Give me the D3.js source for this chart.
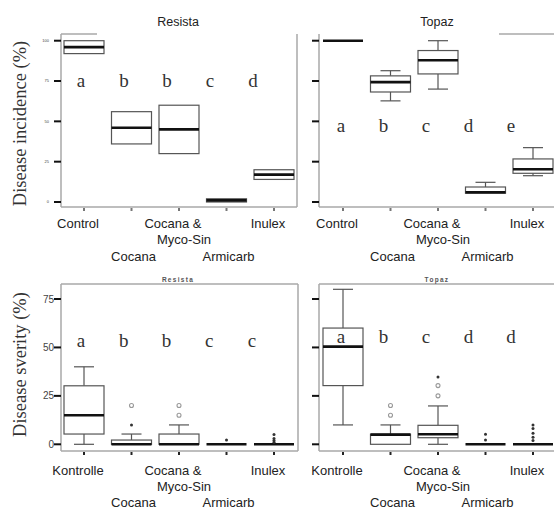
<!DOCTYPE html>
<html lang="en">
<head>
<meta charset="UTF-8">
<title>Disease incidence and severity</title>
<script src="https://cdn.jsdelivr.net/npm/d3@7/dist/d3.min.js"></script>
<style>
  body { margin: 0; background: #fff; }
  svg { display: block; }
</style>
</head>
<body>
<div id="chart"></div>
<script>
// ---- data ----
const incidenceGroups = ["Control", "Cocana", "Cocana &\nMyco-Sin", "Armicarb", "Inulex"];
const severityGroups = ["Kontrolle", "Cocana", "Cocana &\nMyco-Sin", "Armicarb", "Inulex"];

const incidenceTicks = [0, 25, 50, 75, 100];
const severityTicks = [0, 25, 50, 75];

// [min, q1, median, q3, max]
const incidenceResista = [[92, 92, 96, 100, 100], [36, 36, 46, 56, 56], [30, 30, 45, 60, 60], [0, 0, 1, 2, 2], [14, 14, 17, 20, 20]];
const incidenceTopaz = [[100, 100, 100, 100, 100], [62.7, 68.2, 74.3, 78.2, 81.4], [70, 79.4, 87.9, 93.9, 100], [5.4, 5.4, 6, 9.3, 12.2], [16.3, 17.8, 20.3, 26.7, 33.7]];
const severityResista = [[0, 5.3, 15, 30.2, 40], [0, 0, 0, 2.2, 5.3], [0, 0, 0, 5.3, 10], [0, 0, 0, 0, 0], [0, 0, 0, 0, 0]];
const severityTopaz = [[10, 30.3, 50.4, 60, 80], [0, 0, 5, 5.2, 10], [0, 3.4, 5.2, 9.8, 19.8], [0, 0, 0, 0, 0], [0, 0, 0, 0, 0]];

// outliers: [group index, value]
const openResista = [[1, 20], [2, 15], [2, 20]];
const solidResista = [[1, 10], [3, 2.2], [4, 1], [4, 2], [4, 3], [4, 5]];
const openTopaz = [[1, 15], [1, 20], [2, 25], [2, 30.3]];
const solidTopaz = [[2, 34.7], [3, 2.2], [3, 5.2], [4, 2], [4, 3.6], [4, 5.7], [4, 8.2], [4, 10]];

const lettersIncResista = ["a", "b", "b", "c", "d"];
const lettersIncTopaz = ["a", "b", "c", "d", "e"];
const lettersSevResista = ["a", "b", "b", "c", "c"];
const lettersSevTopaz = ["a", "b", "c", "d", "d"];

// ---- layout ----
const width = 554, height = 510;
const svg = d3.select("#chart").append("svg")
  .attr("width", width).attr("height", height);

const panels = [
  { title: "Resista", small: false, groups: incidenceGroups, boxes: incidenceResista, open: [], solid: [],
    letters: lettersIncResista, letterAt: 75, ticks: incidenceTicks, yDomain: [0, 100],
    x0: 61, x1: 297, y0: 34, y1: 207, yr: [202, 40.7], xr: [84, 274], lr: [81, 253],
    sides: [["l"], ["b"], ["r"], ["t", 61, 97]], tickLabels: true, labelRows: [223, 239, 256] },
  { title: "Topaz", small: false, groups: incidenceGroups, boxes: incidenceTopaz, open: [], solid: [],
    letters: lettersIncTopaz, letterAt: 47, ticks: incidenceTicks, yDomain: [0, 100],
    x0: 319, x1: 554, y0: 34, y1: 207, yr: [202, 40.7], xr: [343, 533], lr: [341, 511],
    sides: [["l"], ["b"], ["t", 499, 554]], tickLabels: false, labelRows: [223, 239, 256] },
  { title: "Resista", small: true, groups: severityGroups, boxes: severityResista, open: openResista, solid: solidResista,
    letters: lettersSevResista, letterAt: 53, ticks: severityTicks, yDomain: [0, 75],
    x0: 61, x1: 298, y0: 284, y1: 451, yr: [444.3, 299], xr: [84, 274], lr: [81, 252],
    sides: [["l"], ["b"], ["r"], ["t"]], tickLabels: true, labelRows: [470, 486, 502] },
  { title: "Topaz", small: true, groups: severityGroups, boxes: severityTopaz, open: openTopaz, solid: solidTopaz,
    letters: lettersSevTopaz, letterAt: 55, ticks: severityTicks, yDomain: [0, 75],
    x0: 319, x1: 554, y0: 284, y1: 451, yr: [444.3, 299], xr: [343, 533], lr: [341, 511],
    sides: [["l"], ["b"], ["t"]], tickLabels: false, labelRows: [470, 486, 502] }
];

const axisColor = "#a8a8a8";
const boxColor = "#555";
const sans = "'Liberation Sans', Arial, sans-serif";
const serif = "'Liberation Serif', 'Times New Roman', serif";

panels.forEach(p => {
  const g = svg.append("g");
  const x = d3.scalePoint().domain(d3.range(p.groups.length)).range(p.xr);
  const xl = d3.scalePoint().domain(d3.range(p.letters.length)).range(p.lr);
  const y = d3.scaleLinear().domain(p.yDomain).range(p.yr);
  const boxW = 40;

  // frame
  p.sides.forEach(s => {
    const ln = g.append("line").attr("stroke", axisColor).attr("stroke-width", 1.5);
    if (s[0] === "l") ln.attr("x1", p.x0).attr("x2", p.x0).attr("y1", p.y0).attr("y2", p.y1);
    if (s[0] === "r") ln.attr("x1", p.x1).attr("x2", p.x1).attr("y1", p.y0).attr("y2", p.y1);
    if (s[0] === "b") ln.attr("x1", p.x0).attr("x2", p.x1).attr("y1", p.y1).attr("y2", p.y1);
    if (s[0] === "t") ln.attr("x1", s[1] ?? p.x0).attr("x2", s[2] ?? p.x1).attr("y1", p.y0).attr("y2", p.y0);
  });

  // y ticks
  p.ticks.forEach(t => {
    g.append("line")
      .attr("x1", p.x0 - 7).attr("x2", p.x0)
      .attr("y1", y(t)).attr("y2", y(t))
      .attr("stroke", "#111").attr("stroke-width", 2);
    if (p.tickLabels) {
      g.append("text")
        .attr("x", p.x0 - (p.small ? 7 : 12)).attr("y", y(t))
        .attr("dy", "0.35em")
        .attr("text-anchor", "end")
        .style("font-family", sans)
        .style("font-size", p.small ? "10px" : "4px")
        .style("fill", "#444")
        .text(t);
    }
  });

  // x ticks
  p.groups.forEach((d, i) => {
    g.append("line")
      .attr("x1", x(i)).attr("x2", x(i))
      .attr("y1", p.y1 + 1).attr("y2", p.y1 + 4)
      .attr("stroke", p.small ? "#222" : "#777").attr("stroke-width", 2);
  });

  // title
  g.append("text")
    .attr("x", (p.xr[0] + p.xr[1]) / 2 - 1)
    .attr("y", p.small ? p.y0 - 2 : 25.5)
    .attr("text-anchor", "middle")
    .style("font-family", sans)
    .style("font-size", p.small ? "6.5px" : "12.5px")
    .style("font-weight", p.small ? "bold" : "normal")
    .style("letter-spacing", p.small ? "1.3px" : "0")
    .style("fill", p.small ? "#555" : "#222")
    .text(p.title);

  // boxes
  p.boxes.forEach((b, i) => {
    const cx = x(i);
    const [mn, q1, md, q3, mx] = b;
    if (mx > q3) {
      g.append("line").attr("x1", cx).attr("x2", cx).attr("y1", y(q3)).attr("y2", y(mx))
        .attr("stroke", boxColor).attr("stroke-width", 1.2);
      g.append("line").attr("x1", cx - 10).attr("x2", cx + 10).attr("y1", y(mx)).attr("y2", y(mx))
        .attr("stroke", boxColor).attr("stroke-width", 1.2);
    }
    if (mn < q1) {
      g.append("line").attr("x1", cx).attr("x2", cx).attr("y1", y(q1)).attr("y2", y(mn))
        .attr("stroke", boxColor).attr("stroke-width", 1.2);
      g.append("line").attr("x1", cx - 10).attr("x2", cx + 10).attr("y1", y(mn)).attr("y2", y(mn))
        .attr("stroke", boxColor).attr("stroke-width", 1.2);
    }
    if (q3 > q1) {
      g.append("rect")
        .attr("x", cx - boxW / 2).attr("width", boxW)
        .attr("y", y(q3)).attr("height", y(q1) - y(q3))
        .attr("fill", "#fff").attr("stroke", boxColor).attr("stroke-width", 1.2);
    }
    g.append("line")
      .attr("x1", cx - boxW / 2).attr("x2", cx + boxW / 2)
      .attr("y1", y(md)).attr("y2", y(md))
      .attr("stroke", "#111").attr("stroke-width", 2.6);
  });

  // outliers
  p.open.forEach(([i, v]) => {
    g.append("circle").attr("cx", x(i)).attr("cy", y(v)).attr("r", 2)
      .attr("fill", "none").attr("stroke", "#999").attr("stroke-width", 1.1);
  });
  p.solid.forEach(([i, v]) => {
    g.append("circle").attr("cx", x(i)).attr("cy", y(v)).attr("r", 1.5)
      .attr("fill", "#333");
  });

  // significance letters
  p.letters.forEach((l, i) => {
    g.append("text")
      .attr("x", xl(i)).attr("y", y(p.letterAt))
      .attr("dy", "0.3em")
      .attr("text-anchor", "middle")
      .style("font-family", serif)
      .style("font-size", "19px")
      .style("fill", "#333")
      .text(l);
  });

  // group labels (staggered like the original)
  p.groups.forEach((d, i) => {
    const parts = d.split("\n");
    const row = i % 2 === 1 ? 2 : 0;
    const dx = row === 2 ? 2 : -6;
    parts.forEach((t, k) => {
      g.append("text")
        .attr("x", x(i) + (k === 1 ? 5 : dx))
        .attr("y", p.labelRows[row + k])
        .attr("dy", "0.35em")
        .attr("text-anchor", "middle")
        .style("font-family", sans)
        .style("font-size", "13px")
        .style("fill", "#222")
        .text(t);
    });
  });
});

// y axis titles
[["Disease incidence (%)", 123.5], ["Disease sverity (%)", 364.5]].forEach(([t, cy]) => {
  svg.append("text")
    .attr("transform", `translate(20,${cy}) rotate(-90)`)
    .attr("dy", "0.35em")
    .attr("text-anchor", "middle")
    .style("font-family", serif)
    .style("font-size", "18.5px")
    .style("fill", "#333")
    .text(t);
});
</script>
</body>
</html>
